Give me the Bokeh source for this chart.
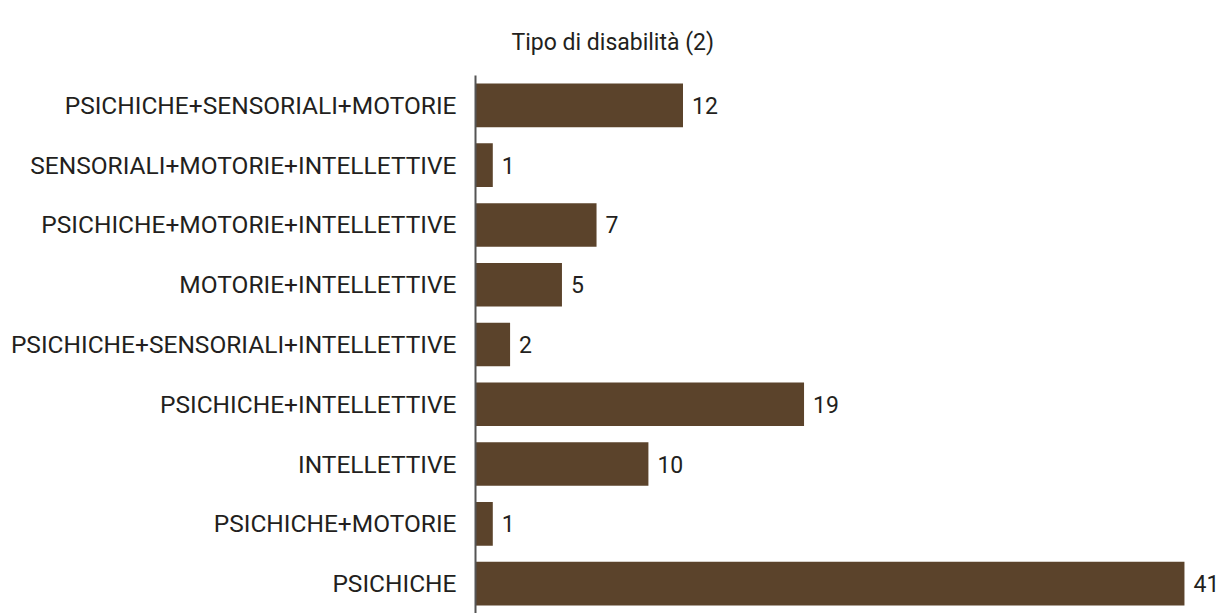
from bokeh.plotting import figure
from bokeh.models import FactorRange, ColumnDataSource
from bokeh.core.properties import value
from bokeh.embed import file_html
from bokeh.resources import INLINE

categories = [
    "PSICHICHE",
    "PSICHICHE+MOTORIE",
    "INTELLETTIVE",
    "PSICHICHE+INTELLETTIVE",
    "PSICHICHE+SENSORIALI+INTELLETTIVE",
    "MOTORIE+INTELLETTIVE",
    "PSICHICHE+MOTORIE+INTELLETTIVE",
    "SENSORIALI+MOTORIE+INTELLETTIVE",
    "PSICHICHE+SENSORIALI+MOTORIE",
]
counts = [41, 1, 10, 19, 2, 5, 7, 1, 12]
labels = [str(c) for c in counts]
title_text = "Tipo di disabilità (2)"

FONT = "Roboto"
TEXT = "#231f20"
BAR = "#5b432b"

src = ColumnDataSource(dict(cat=categories, val=counts, lab=labels))

p = figure(
    width=1222, height=613,
    y_range=FactorRange(*categories, range_padding=0),
    x_range=(0, 43.2),
    output_backend="svg", toolbar_location=None,
    min_border_left=475, min_border_right=0, min_border_bottom=0, min_border_top=75,
    title=title_text,
)
p.title.align = "left"
p.title.offset = 36
p.title.text_font = FONT
p.title.text_font_size = "23px"
p.title.text_font_style = "normal"
p.title.text_color = TEXT
p.title.standoff = 40

p.hbar(y="cat", right="val", left=0, height=0.73, source=src, color=BAR, line_color=None)
p.text(x="val", y="cat", text="lab", source=src, x_offset=9,
       text_baseline="middle", text_align="left",
       text_font=value(FONT), text_font_size="23px", text_font_style="normal",
       text_color=TEXT)

p.xaxis.visible = False
p.xgrid.visible = False
p.ygrid.visible = False
p.outline_line_color = None

ax = p.yaxis[0]
ax.axis_line_color = "#555555"
ax.axis_line_width = 2
ax.major_tick_line_color = None
ax.minor_tick_line_color = None
ax.major_label_standoff = 13
ax.major_label_text_font = FONT
ax.major_label_text_font_size = "24.5px"
ax.major_label_text_color = TEXT

open("out.html", "w").write(file_html(p, INLINE))
